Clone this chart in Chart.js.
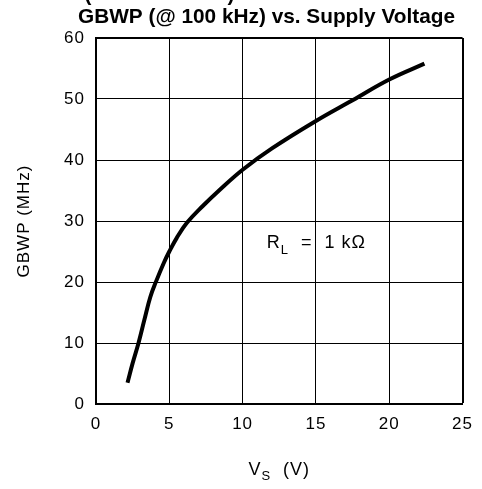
<!DOCTYPE html>
<html>
<head>
<meta charset="utf-8">
<script src="https://cdn.jsdelivr.net/npm/chart.js@4.4.0/dist/chart.umd.min.js"></script>
<style>
  html, body { margin: 0; padding: 0; background: #fff; }
  #wrap { width: 482px; height: 489px; }
</style>
</head>
<body>
<div id="wrap"><canvas id="c"></canvas></div>
<script>
// values
const supplyV = [2.15, 2.5, 2.9, 3.3, 3.7, 4.1, 4.6, 5, 5.5, 6.2, 7.3, 8.3, 10, 12, 15, 17.5, 20, 22.4];
const gbwp = [3.5, 6.7, 10, 13.8, 17.5, 20.1, 23, 25, 27.2, 29.7, 32.5, 34.8, 38.4, 41.9, 46.4, 49.8, 53.2, 55.8];
const xTicks = [0, 5, 10, 15, 20, 25];
const yTicks = [0, 10, 20, 30, 40, 50, 60];

const titleText = 'GBWP (@ 100 kHz) vs. Supply Voltage';
const font = '"Liberation Sans", Arial, sans-serif';

const points = supplyV.map((v, i) => ({ x: v, y: gbwp[i] }));

// title, x axis title and the R_L note are drawn by hand (subscripts)
const textPlugin = {
  id: 'texts',
  beforeDraw(chart) {
    chart.ctx.letterSpacing = '1px';
  },
  afterDraw(chart) {
    const ctx = chart.ctx;
    const area = chart.chartArea;
    const xs = chart.scales.x, ys = chart.scales.y;
    ctx.save();
    ctx.fillStyle = '#000';
    ctx.letterSpacing = '0px';

    // clipped remains of the line above the title
    ctx.font = 'bold 20.8px ' + font;
    ctx.textBaseline = 'alphabetic';
    ctx.textAlign = 'center';
    ctx.fillText('(', 88, 1);
    ctx.fillText(')', 231, 1);

    ctx.fillText(titleText, 266.5, 23);

    // x axis title: V_S (V)
    ctx.letterSpacing = '1px';
    ctx.textAlign = 'left';
    ctx.font = '18px ' + font;
    const wV = ctx.measureText('V').width;
    const rest = '  (V)';
    const wRest = ctx.measureText(rest).width;
    ctx.font = '13px ' + font;
    const wS = ctx.measureText('S').width;
    let x0 = (area.left + area.right) / 2 - (wV + wS + wRest) / 2;
    const base = 475;
    ctx.font = '18px ' + font;
    ctx.fillText('V', x0, base);
    ctx.font = '13px ' + font;
    ctx.fillText('S', x0 + wV, base + 5);
    ctx.font = '18px ' + font;
    ctx.fillText(rest, x0 + wV + wS, base);

    // R_L = 1 kΩ note
    const nx = xs.getPixelForValue(11.65);
    const ny = ys.getPixelForValue(25.6);
    ctx.font = '18px ' + font;
    ctx.fillText('R', nx, ny);
    const wR = ctx.measureText('R').width;
    ctx.font = '13px ' + font;
    ctx.fillText('L', nx + wR, ny + 6);
    const wL = ctx.measureText('L').width;
    ctx.font = '18px ' + font;
    ctx.fillText('  =  1 k\u03A9', nx + wR + wL, ny);
    ctx.restore();
  }
};

new Chart(document.getElementById('c'), {
  type: 'line',
  data: {
    datasets: [{
      data: points,
      borderColor: '#000',
      borderWidth: 4,
      pointRadius: 0,
      fill: false,
      tension: 0.4
    }]
  },
  options: {
    responsive: true,
    maintainAspectRatio: false,
    animation: false,
    layout: { padding: { top: 38, right: 19, left: 0, bottom: 0 } },
    plugins: { legend: { display: false }, tooltip: { enabled: false } },
    scales: {
      x: {
        type: 'linear',
        min: 0, max: 25,
        afterBuildTicks: s => { s.ticks = xTicks.map(v => ({ value: v })); },
        afterFit: s => { s.height = 85; },
        grid: {
          color: '#000',
          lineWidth: c => (c.tick && c.tick.value === 25 ? 2 : 1),
          drawTicks: false
        },
        border: { display: true, color: '#000', width: 2 },
        ticks: { color: '#000', padding: 10, font: { family: font, size: 17 }, maxRotation: 0 }
      },
      y: {
        min: 0, max: 60,
        afterBuildTicks: s => { s.ticks = yTicks.map(v => ({ value: v })); },
        afterFit: s => { s.width = 96; },
        grid: {
          color: '#000',
          lineWidth: c => (c.tick && c.tick.value === 60 ? 2 : 1),
          drawTicks: false
        },
        border: { display: true, color: '#000', width: 2 },
        ticks: { color: '#000', padding: 11, font: { family: font, size: 17 } },
        title: {
          display: true,
          text: 'GBWP (MHz)',
          color: '#000',
          font: { family: font, size: 17 },
          padding: { top: 14 }
        }
      }
    }
  },
  plugins: [textPlugin]
});
</script>
</body>
</html>
